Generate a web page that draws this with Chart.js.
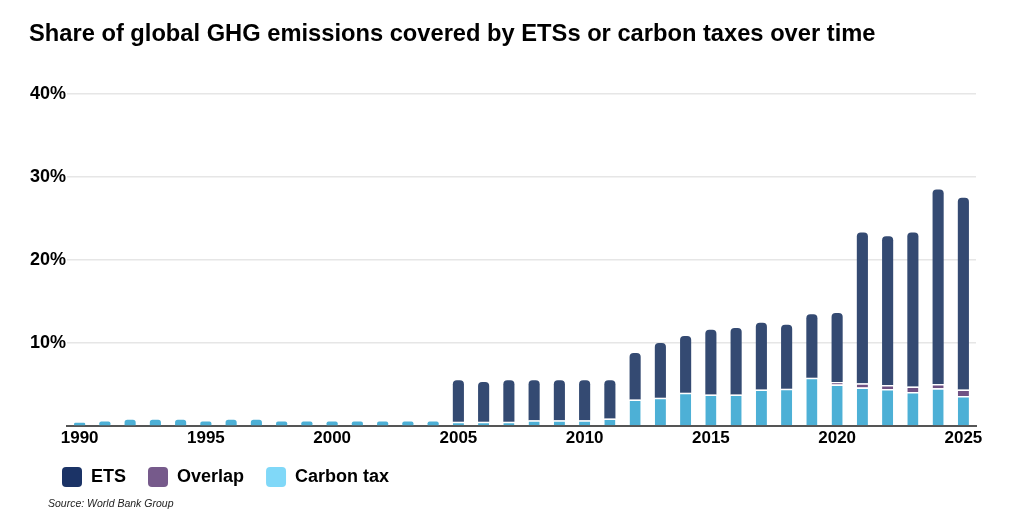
<!DOCTYPE html>
<html>
<head>
<meta charset="utf-8">
<script src="https://cdn.jsdelivr.net/npm/chart.js@4.4.1/dist/chart.umd.min.js"></script>
<style>
  html, body { margin: 0; padding: 0; background: #fff; }
  #wrap { position: relative; width: 1024px; height: 518px; overflow: hidden; }
  #title { position: absolute; left: 29px; top: 19px; font: bold 23.7px "Liberation Sans", Arial, sans-serif; color: #000; line-height: 1.2; white-space: nowrap; }
  #source { position: absolute; left: 48px; top: 497px; font: italic 10.5px "Liberation Sans", Arial, sans-serif; color: #222; line-height: 1.2; white-space: nowrap; }
  canvas { position: absolute; left: 0; top: 0; }
</style>
</head>
<body>
<div id="wrap">
  <canvas id="c" width="1024" height="518"></canvas>
  <div id="title">Share of global GHG emissions covered by ETSs or carbon taxes over time</div>
  <div id="source">Source: World Bank Group</div>
</div>
<script>
const years = ['1990','1991','1992','1993','1994','1995','1996','1997','1998','1999','2000','2001','2002','2003','2004','2005','2006','2007','2008','2009','2010','2011','2012','2013','2014','2015','2016','2017','2018','2019','2020','2021','2022','2023','2024','2025'];

// Share (%) of global GHG emissions
const carbonTax = [0.4,0.55,0.75,0.75,0.75,0.55,0.75,0.75,0.55,0.55,0.55,0.55,0.55,0.55,0.55,0.5,0.5,0.5,0.7,0.7,0.7,0.9,3.2,3.4,4.0,3.8,3.8,4.4,4.5,5.8,5.0,4.65,4.45,4.1,4.55,3.6];
const overlap = [null,null,null,null,null,null,null,null,null,null,null,null,null,null,null,null,null,null,null,null,null,null,null,null,null,null,null,null,null,null,0.3,0.5,0.5,0.65,0.5,0.8];
const ets = [null,null,null,null,null,null,null,null,null,null,null,null,null,null,null,5.0,4.8,5.0,4.8,4.8,4.8,4.6,5.6,6.6,6.85,7.8,8.0,8.05,7.7,7.65,8.3,18.15,17.9,18.55,23.45,23.1];

const yTicks = [0, 10, 20, 30, 40];
const legendLabels = ['ETS', 'Overlap', 'Carbon tax'];

const barColors = { ets: '#344a72', overlap: '#6f5183', tax: '#4db0d6' };
const legendColors = ['#1b3366', '#765a8b', '#80d8f8'];

const font = '"Liberation Sans", Arial, sans-serif';

// white separator only where another segment sits on top
const sepTop = (hasAbove) => hasAbove ? { top: 1.5, left: 0, right: 0, bottom: 0 } : 0;

// moves the legend block so its first box lines up with the reference
const legendOffset = {
  id: 'legendOffset',
  afterLayout(chart) {
    const lg = chart.legend;
    if (!lg) return;
    const dx = 40 - lg.left;
    lg.left += dx;
    lg.right += dx;
  }
};

new Chart(document.getElementById('c'), {
  type: 'bar',
  data: {
    labels: years,
    datasets: [
      { label: 'Carbon tax', data: carbonTax, backgroundColor: barColors.tax, borderColor: '#ffffff',
        borderWidth: (c) => sepTop(!!(ets[c.dataIndex] || overlap[c.dataIndex])), borderSkipped: 'start', borderRadius: 4 },
      { label: 'Overlap', data: overlap, backgroundColor: barColors.overlap, borderColor: '#ffffff',
        borderWidth: (c) => sepTop(!!ets[c.dataIndex]), borderSkipped: 'start', borderRadius: 4 },
      { label: 'ETS', data: ets, backgroundColor: barColors.ets, borderWidth: 0, borderSkipped: 'start', borderRadius: 4 }
    ]
  },
  plugins: [legendOffset],
  options: {
    responsive: false,
    animation: false,
    devicePixelRatio: 1,
    layout: { padding: { left: 29, right: 48, top: 94, bottom: 21 } },
    datasets: { bar: { barPercentage: 0.44, categoryPercentage: 1.0 } },
    plugins: {
      title: { display: false },
      tooltip: { enabled: false },
      legend: {
        display: true,
        position: 'bottom',
        align: 'start',
        labels: {
          boxWidth: 20,
          boxHeight: 20,
          padding: 22,
          useBorderRadius: true,
          borderRadius: 4,
          color: '#000',
          font: { family: font, size: 18, weight: 'bold' },
          generateLabels: (chart) => legendLabels.map((t, i) => ({
            text: t,
            fillStyle: legendColors[i],
            strokeStyle: legendColors[i],
            lineWidth: 0,
            hidden: false,
            datasetIndex: 2 - i,
            borderRadius: 4
          }))
        }
      }
    },
    scales: {
      x: {
        stacked: true,
        afterFit: (axis) => { axis.height = 19; },
        grid: { display: false, drawTicks: false },
        border: { display: true, color: '#555555', width: 2 },
        ticks: {
          autoSkip: false,
          maxRotation: 0,
          minRotation: 0,
          padding: 4,
          color: '#000',
          font: { family: font, size: 17, weight: 'bold', lineHeight: 1 },
          callback: function (v, i) { const y = years[i]; return (+y % 5 === 0) ? y : ''; }
        }
      },
      y: {
        stacked: true,
        min: 0,
        max: 40,
        afterFit: (axis) => { axis.width = 38; },
        afterBuildTicks: (axis) => { axis.ticks = yTicks.map(v => ({ value: v })); },
        grid: { color: '#e6e6e6', lineWidth: 1.5, drawTicks: false },
        border: { display: false },
        ticks: {
          padding: 1,
          color: '#000',
          font: { family: font, size: 18, weight: 'bold' },
          callback: (v) => v === 0 ? '' : v + '%'
        }
      }
    }
  }
});
</script>
</body>
</html>
